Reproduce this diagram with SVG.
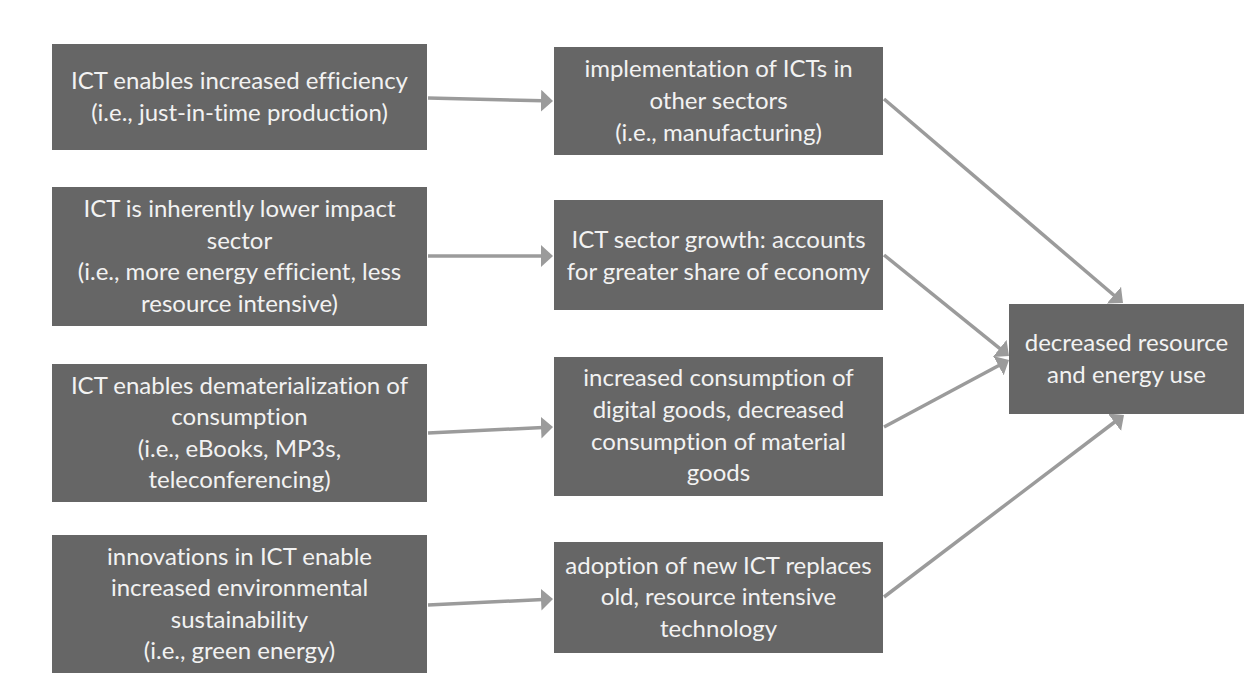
<svg xmlns="http://www.w3.org/2000/svg" width="1254" height="695" viewBox="0 0 1254 695">
  <style>
    .box { fill: #666666; }
    .lbl { font-family: Lato, "Open Sans", "Liberation Sans", sans-serif; font-size: 24px; fill: #f2f2f2; text-anchor: middle; font-variant-ligatures: none; font-feature-settings: "liga" 0, "clig" 0; }
    .edge { stroke: #9b9b9b; stroke-width: 3.5; fill: none; marker-end: url(#head); }
  </style>
  <defs>
    <marker id="head" markerUnits="userSpaceOnUse" viewBox="0 0 12 22" refX="2" refY="11" markerWidth="12" markerHeight="22" orient="auto">
      <path d="M0,0 L12,11 L0,22 z" fill="#9b9b9b"/>
    </marker>
  </defs>
  <rect width="1254" height="695" fill="#ffffff"/>

  <!-- connectors -->
  <g id="connectors">
    <line class="edge" x1="428" y1="98" x2="543" y2="100.8"/>
    <line class="edge" x1="428" y1="256" x2="543" y2="256"/>
    <line class="edge" x1="428" y1="433" x2="543" y2="427.5"/>
    <line class="edge" x1="428" y1="605" x2="543" y2="599.5"/>
    <line class="edge" x1="884" y1="99" x2="1115.4" y2="296.5"/>
    <line class="edge" x1="884" y1="255" x2="1001.2" y2="349.7"/>
    <line class="edge" x1="884" y1="427" x2="1000.2" y2="364.7"/>
    <line class="edge" x1="884" y1="597" x2="1116" y2="421"/>
  </g>

  <!-- left column -->
  <g id="efficiency">
    <rect class="box" x="52" y="44" width="375" height="106"/>
    <text class="lbl"><tspan x="239.5" y="89">ICT enables increased efficiency</tspan><tspan x="239.5" y="121">(i.e., just-in-time production)</tspan></text>
  </g>
  <g id="lower-impact">
    <rect class="box" x="52" y="187" width="375" height="139"/>
    <text class="lbl"><tspan x="239.5" y="217">ICT is inherently lower impact</tspan><tspan x="239.5" y="249">sector</tspan><tspan x="239.5" y="280">(i.e., more energy efficient, less</tspan><tspan x="239.5" y="312">resource intensive)</tspan></text>
  </g>
  <g id="dematerialization">
    <rect class="box" x="52" y="364" width="375" height="138"/>
    <text class="lbl"><tspan x="239.5" y="394">ICT enables dematerialization of</tspan><tspan x="239.5" y="425">consumption</tspan><tspan x="239.5" y="457">(i.e., eBooks, MP3s,</tspan><tspan x="239.5" y="488">teleconferencing)</tspan></text>
  </g>
  <g id="innovations">
    <rect class="box" x="52" y="535" width="375" height="138"/>
    <text class="lbl"><tspan x="239.5" y="565">innovations in ICT enable</tspan><tspan x="239.5" y="596">increased environmental</tspan><tspan x="239.5" y="628">sustainability</tspan><tspan x="239.5" y="659">(i.e., green energy)</tspan></text>
  </g>

  <!-- middle column -->
  <g id="implementation">
    <rect class="box" x="554" y="47" width="329" height="108"/>
    <text class="lbl"><tspan x="718.5" y="77">implementation of ICTs in</tspan><tspan x="718.5" y="109">other sectors</tspan><tspan x="718.5" y="141">(i.e., manufacturing)</tspan></text>
  </g>
  <g id="sector-growth">
    <rect class="box" x="554" y="200" width="329" height="110"/>
    <text class="lbl"><tspan x="718.5" y="248">ICT sector growth: accounts</tspan><tspan x="718.5" y="280">for greater share of economy</tspan></text>
  </g>
  <g id="digital-goods">
    <rect class="box" x="554" y="357" width="329" height="139"/>
    <text class="lbl"><tspan x="718.5" y="386">increased consumption of</tspan><tspan x="718.5" y="418">digital goods, decreased</tspan><tspan x="718.5" y="450">consumption of material</tspan><tspan x="718.5" y="481">goods</tspan></text>
  </g>
  <g id="adoption">
    <rect class="box" x="554" y="542" width="329" height="111"/>
    <text class="lbl"><tspan x="718.5" y="574">adoption of new ICT replaces</tspan><tspan x="718.5" y="605">old, resource intensive</tspan><tspan x="718.5" y="637">technology</tspan></text>
  </g>

  <!-- outcome -->
  <g id="outcome">
    <rect class="box" x="1009" y="304" width="235" height="110"/>
    <text class="lbl"><tspan x="1126.5" y="351">decreased resource</tspan><tspan x="1126.5" y="383">and energy use</tspan></text>
  </g>
</svg>
